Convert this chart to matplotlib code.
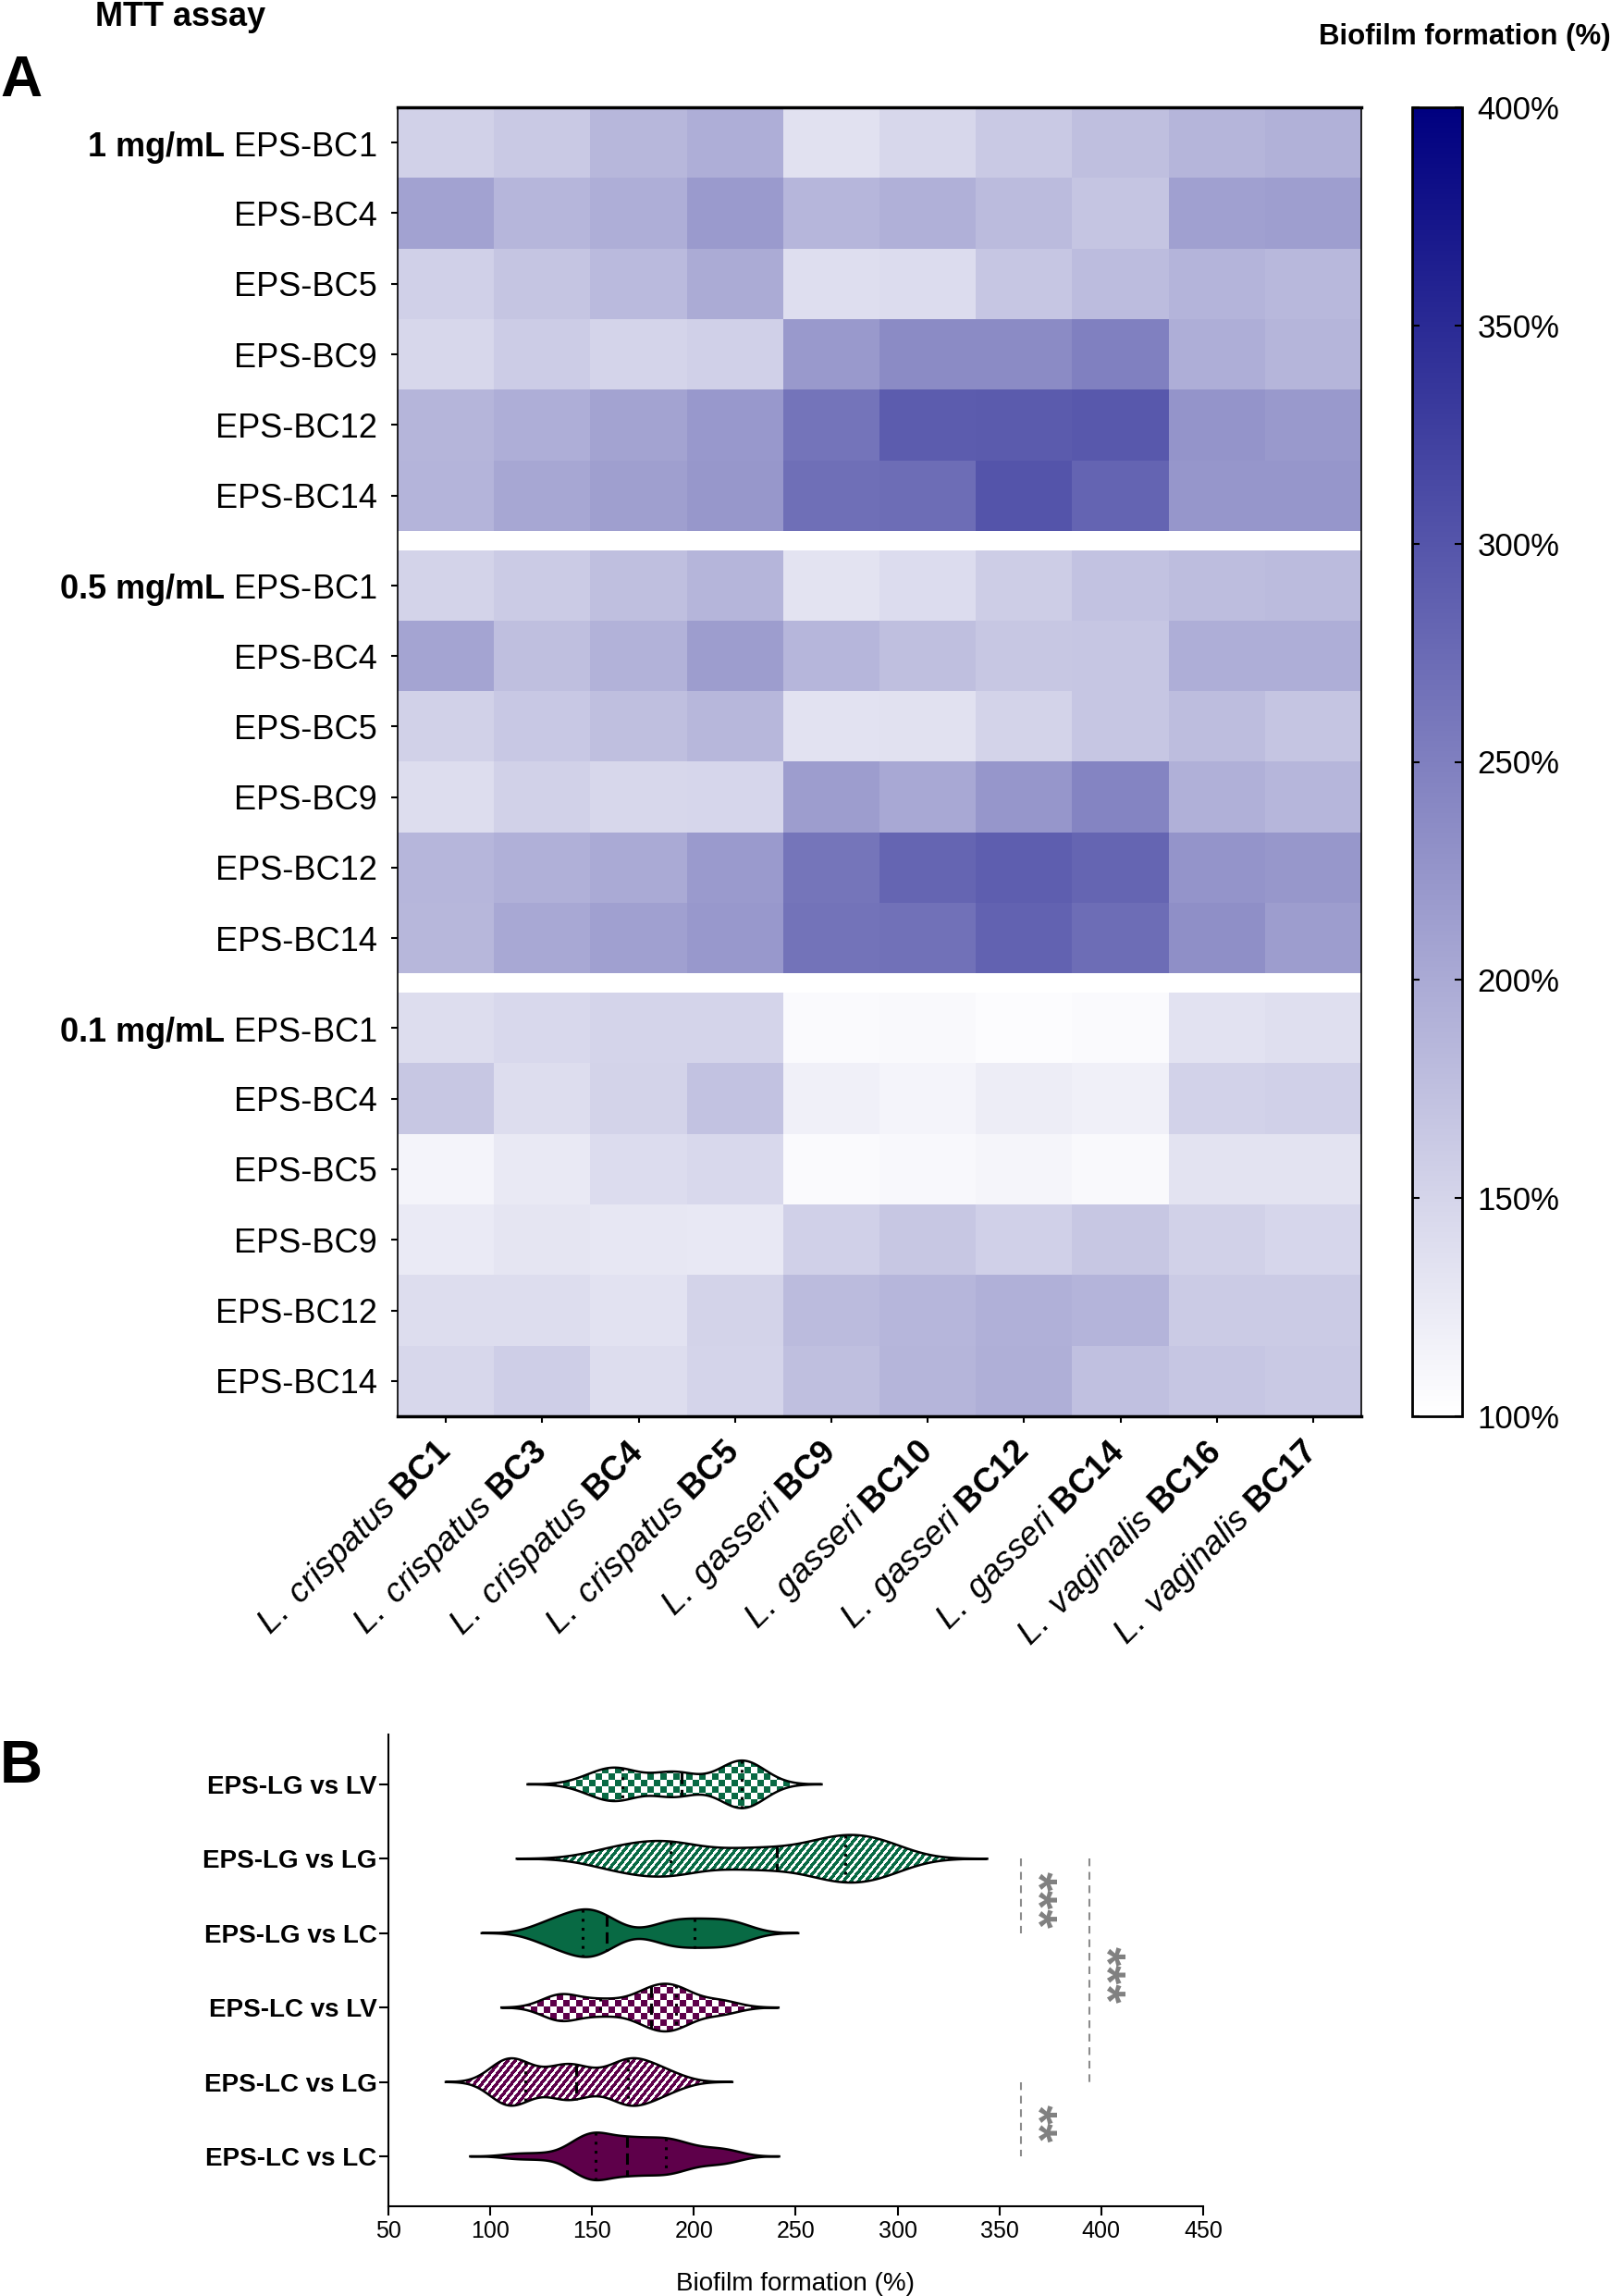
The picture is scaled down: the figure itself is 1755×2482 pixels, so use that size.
import numpy as np
import matplotlib
matplotlib.use('Agg')
import matplotlib.pyplot as plt
from matplotlib.colors import LinearSegmentedColormap, to_rgb
from matplotlib.patches import Polygon

plt.rcParams['font.family'] = ['Liberation Sans', 'DejaVu Sans']
plt.rcParams['mathtext.fontset'] = 'custom'
plt.rcParams['mathtext.rm'] = 'Liberation Sans'
plt.rcParams['mathtext.it'] = 'Liberation Sans:italic'
plt.rcParams['mathtext.bf'] = 'Liberation Sans:bold'

# ---- data ----
eps_names = ['EPS-BC1', 'EPS-BC4', 'EPS-BC5', 'EPS-BC9', 'EPS-BC12', 'EPS-BC14']
concentrations = ['1 mg/mL', '0.5 mg/mL', '0.1 mg/mL']
species = ['crispatus'] * 4 + ['gasseri'] * 4 + ['vaginalis'] * 2
strains = ['BC1', 'BC3', 'BC4', 'BC5', 'BC9', 'BC10', 'BC12', 'BC14', 'BC16', 'BC17']

# biofilm formation (%) rows = EPS, cols = strains
biofilm_1mg = [
    [155, 164, 185, 195, 136, 148, 164, 175, 187, 192],
    [209, 186, 196, 219, 186, 193, 180, 169, 212, 214],
    [156, 168, 181, 199, 139, 142, 167, 179, 189, 184],
    [147, 160, 151, 156, 220, 236, 236, 249, 195, 187],
    [187, 196, 208, 221, 264, 292, 293, 296, 226, 220],
    [189, 204, 213, 222, 269, 272, 301, 282, 224, 224],
]
biofilm_05mg = [
    [152, 162, 175, 187, 133, 142, 159, 172, 178, 180],
    [207, 176, 191, 216, 186, 176, 166, 167, 195, 196],
    [154, 165, 175, 185, 135, 136, 152, 167, 178, 169],
    [140, 155, 147, 149, 215, 202, 224, 245, 193, 186],
    [186, 193, 200, 219, 262, 281, 289, 281, 226, 222],
    [185, 202, 212, 221, 265, 267, 284, 272, 232, 216],
]
biofilm_01mg = [
    [141, 146, 151, 151, 106, 108, 104, 107, 135, 138],
    [166, 141, 152, 172, 118, 114, 122, 118, 153, 156],
    [113, 126, 142, 146, 107, 109, 112, 108, 133, 133],
    [125, 131, 129, 127, 156, 166, 156, 166, 154, 149],
    [141, 141, 135, 152, 180, 186, 193, 189, 161, 162],
    [147, 158, 141, 151, 176, 187, 194, 174, 167, 164],
]

# violin groups (EPS producer group vs strain group)
violin_labels = ['EPS-LG vs LV', 'EPS-LG vs LG', 'EPS-LG vs LC',
                 'EPS-LC vs LV', 'EPS-LC vs LG', 'EPS-LC vs LC']
eps_groups = {'EPS-LC': [0, 1, 2], 'EPS-LG': [3, 4, 5]}
strain_groups = {'LC': [0, 1, 2, 3], 'LG': [4, 5, 6, 7], 'LV': [8, 9]}
significance = [(1, 2, '***'), (1, 4, '***'), (4, 5, '**')]

W, H = 1756, 2482
fig = plt.figure(figsize=(W / 100, H / 100), dpi=100)

# ---- panel A: heatmap ----
gap = 0.27
blocks = [biofilm_1mg, biofilm_05mg, biofilm_01mg]
cmap = LinearSegmentedColormap.from_list('biofilm', ['#FFFFFF', '#000080'])

ax = fig.add_axes([430 / W, 1 - 1531 / H, 1042 / W, 1415 / H])
yticks, ylabels = [], []
for b, (conc, block) in enumerate(zip(concentrations, blocks)):
    top = b * (6 + gap)
    mesh = ax.pcolormesh(np.arange(11), top + np.arange(7), np.array(block),
                         cmap=cmap, vmin=100, vmax=400, shading='flat')
    for r, name in enumerate(eps_names):
        yticks.append(top + r + 0.5)
        if r == 0:
            ylabels.append(r'$\mathbf{' + conc.replace(' ', r'\ ') + '}$ ' + name)
        else:
            ylabels.append(name)
ax.set_xlim(0, 10)
ax.set_ylim(18 + 2 * gap, 0)
ax.set_yticks(yticks)
ax.set_yticklabels(ylabels, fontsize=26)
ax.set_xticks(np.arange(10) + 0.5)
ax.set_xticklabels([r'$\mathit{L.\ ' + sp + r'}\ \mathbf{' + st + '}$'
                    for sp, st in zip(species, strains)],
                   fontsize=26.5, rotation=45, ha='right', va='center',
                   rotation_mode='anchor')
ax.tick_params(axis='y', length=5, width=1.5, pad=11)
ax.tick_params(axis='x', length=5, width=1.5, pad=19)
for s in ['top', 'bottom']:
    ax.spines[s].set_linewidth(2.5)
for s in ['left', 'right']:
    ax.spines[s].set_linewidth(1.2)

cax = fig.add_axes([1527 / W, 1 - 1531 / H, 54 / W, 1415 / H])
cb = fig.colorbar(mesh, cax=cax, ticks=np.arange(100, 401, 50))
cb.ax.set_yticklabels([f'{t}%' for t in range(100, 401, 50)])
cb.ax.tick_params(direction='in', left=True, right=True, length=6, width=1.5,
                  labelsize=25, pad=12)
cb.outline.set_linewidth(2)

fig.text(103 / W, 1 - 28 / H, 'MTT assay', fontsize=26, fontweight='bold', va='baseline')
fig.text(0, 1 - 104 / H, 'A', fontsize=45, fontweight='bold', va='baseline')
fig.text(1426 / W, 1 - 48 / H, 'Biofilm formation (%)', fontsize=22.5,
         fontweight='bold', va='baseline')

# ---- panel B: violins ----
green, purple = '#086A44', '#5E004A'
ax2 = fig.add_axes([420 / W, 1 - 2385 / H, 881 / W, 510 / H])
xlim, ylim = (50, 450), (5.67, -0.67)

py, px = np.mgrid[0:510, 0:881]
checker = ((py // 7 + px // 7) % 2) == 0
stripes = ((px + 0.8 * py) % 8) < 4.6


def texture(mask, color):
    tex = np.ones(mask.shape + (3,))
    tex[mask] = to_rgb(color)
    return tex


def kde(vals):
    v = np.asarray(vals, float)
    bw = 0.62 * v.std(ddof=1) * len(v) ** -0.2
    grid = np.linspace(v.min() - 3 * bw, v.max() + 3 * bw, 500)
    dens = np.exp(-0.5 * ((grid[:, None] - v[None, :]) / bw) ** 2).sum(axis=1)
    return grid, dens / dens.max()


all_data = np.array(blocks)  # conc x eps x strain
half = 0.32
for i, lab in enumerate(violin_labels):
    eps_key, strain_key = lab.split(' vs ')
    vals = all_data[:, eps_groups[eps_key], :][:, :, strain_groups[strain_key]].ravel()
    grid, dens = kde(vals)
    hw = dens * half
    color = green if eps_key == 'EPS-LG' else purple
    pts = np.column_stack([np.r_[grid, grid[::-1]], np.r_[i - hw, (i + hw)[::-1]]])
    style = strain_key
    if style == 'LC':
        poly = Polygon(pts, closed=True, fc=color, ec='black', lw=1.8, zorder=3)
        ax2.add_patch(poly)
    else:
        poly = Polygon(pts, closed=True, fc='none', ec='black', lw=1.8, zorder=3)
        ax2.add_patch(poly)
        mask = checker if style == 'LV' else stripes
        im = ax2.imshow(texture(mask, color), extent=(xlim[0], xlim[1], ylim[0], ylim[1]),
                        aspect='auto', interpolation='nearest', zorder=2)
        im.set_clip_path(poly)
    q1, med, q3 = np.percentile(vals, [25, 50, 75])
    for q, ls in [(q1, (0, (1, 2.2))), (med, (0, (4, 2))), (q3, (0, (1, 2.2)))]:
        w = np.interp(q, grid, hw)
        ax2.plot([q, q], [i - w, i + w], color='black', lw=2.2, ls=ls, zorder=4)

for (a, b, stars), xline in zip(significance, [360.5, 394, 360.5]):
    ax2.plot([xline, xline], [a, b], color='#8C8C8C', lw=1.5, ls=(0, (4, 3)), zorder=1)
    ax2.text(xline + 7, (a + b) / 2 + 0.06, stars, rotation=270, ha='center', va='center',
             color='#808080', fontsize=38, fontweight='bold')

ax2.set_xlim(*xlim)
ax2.set_ylim(*ylim)
ax2.set_yticks(range(6))
ax2.set_yticklabels(violin_labels, fontsize=20, fontweight='bold')
ax2.set_xticks(range(50, 451, 50))
ax2.tick_params(axis='x', labelsize=18, length=7, width=1.5, pad=4)
ax2.tick_params(axis='y', length=7, width=1.5, pad=2)
ax2.spines['top'].set_visible(False)
ax2.spines['right'].set_visible(False)
for s in ['left', 'bottom']:
    ax2.spines[s].set_linewidth(1.5)

fig.text(860 / W, 1 - 2476 / H, 'Biofilm formation (%)', fontsize=20, ha='center',
         va='baseline')
fig.text(0, 1 - 1927 / H, 'B', fontsize=46, fontweight='bold', va='baseline')

fig.savefig('out.png', dpi=100)
